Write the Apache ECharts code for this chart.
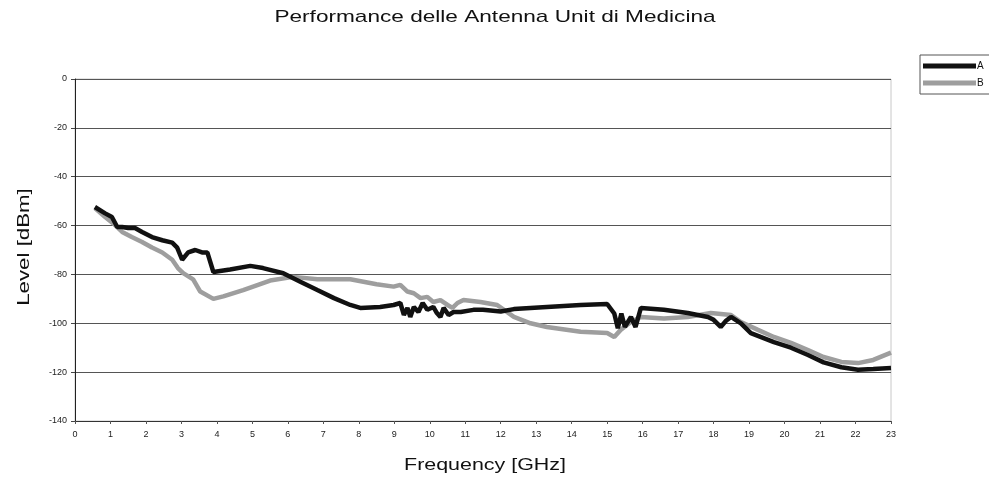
<!DOCTYPE html>
<html>
<head>
<meta charset="utf-8">
<script src="https://cdn.jsdelivr.net/npm/echarts@6/dist/echarts.min.js"></script>
<style>html,body{margin:0;padding:0;background:#fff;}#c{width:989px;height:480px;}</style>
</head>
<body>
<div id="c"></div>
<script>
var titleText = 'Performance delle Antenna Unit di Medicina';
var xAxisName = 'Frequency [GHz]';
var yAxisName = 'Level [dBm]';
var seriesNames = ['A', 'B'];
var yTicks = [-140, -120, -100, -80, -60, -40, -20, 0];
var xTicks = [0,1,2,3,4,5,6,7,8,9,10,11,12,13,14,15,16,17,18,19,20,21,22,23];

var freqA = [0.56,0.85,1.04,1.19,1.33,1.5,1.69,1.89,2.17,2.46,2.74,2.88,3.02,3.19,3.39,3.58,3.73,3.9,4.37,4.94,5.3,5.87,6.35,6.83,7.3,7.76,8.04,8.6,8.98,9.17,9.27,9.37,9.45,9.55,9.68,9.8,9.93,10.1,10.2,10.3,10.39,10.53,10.67,10.87,11.23,11.5,12.0,12.37,13.3,14.25,15.0,15.2,15.3,15.4,15.5,15.67,15.8,15.95,16.6,17.27,17.84,18.0,18.2,18.35,18.49,18.77,19.05,19.7,20.18,20.66,21.1,21.6,22.07,22.5,23.0];
var levelA = [-52.4,-55,-56.5,-60.6,-60.6,-61,-61,-62.6,-64.7,-66,-67,-69,-74,-71,-70,-71,-71,-79,-78,-76.5,-77.4,-79.5,-83,-86.4,-89.7,-92.5,-93.7,-93.3,-92.5,-91.7,-96.6,-93.7,-97.4,-93.3,-95.4,-91.7,-94.5,-93.3,-95.8,-97.4,-93.7,-96.6,-95.4,-95.4,-94.5,-94.5,-95.2,-94.2,-93.3,-92.5,-92.1,-96,-102,-96,-101.5,-97.4,-101.5,-93.7,-94.5,-95.8,-97.4,-98.6,-101.5,-99,-97.4,-100,-104,-107.7,-110,-113,-116,-118,-119,-118.7,-118.3];

var freqB = [0.56,0.85,1.13,1.33,1.6,1.89,2.17,2.46,2.74,2.9,3.05,3.33,3.53,3.9,4.18,4.74,5.5,6.15,6.83,7.76,8.5,8.98,9.17,9.37,9.55,9.74,9.93,10.1,10.3,10.5,10.64,10.78,10.95,11.43,11.9,12.37,12.84,13.3,14.25,15.0,15.2,15.38,15.67,15.95,16.6,17.27,17.92,18.49,18.77,19.25,19.7,20.18,20.66,21.1,21.6,22.07,22.5,23.0];
var levelB = [-52.8,-56.5,-59.8,-62.6,-64.7,-66.7,-69,-71,-74,-77.4,-79.5,-82,-87,-90,-89,-86.4,-82.5,-81,-82,-82,-84,-85,-84.3,-87,-87.7,-89.7,-89.2,-91.3,-90.5,-92.5,-93.7,-91.7,-90.5,-91.3,-92.5,-97.4,-100,-101.5,-103.5,-104,-105.6,-102.7,-99.5,-97.4,-98,-97.4,-95.8,-96.6,-99.5,-102.7,-105.6,-108,-111,-113.8,-115.8,-116.3,-115,-112];

function pairs(xs, ys) { return xs.map(function (x, i) { return [x, ys[i]]; }); }

var FONT = 'Liberation Sans, Arial, sans-serif';
var chart = echarts.init(document.getElementById('c'), null, { renderer: 'canvas' });
chart.setOption({
  animation: false,
  backgroundColor: '#ffffff',
  graphic: [
    {
      type: 'text', x: 495, y: 17, scaleX: 1.33,
      style: { text: titleText, font: '17px Liberation Sans, Arial, sans-serif', fill: '#111',
               align: 'center', verticalAlign: 'middle', textAlign: 'center', textVerticalAlign: 'middle' }
    },
    {
      type: 'text', x: 485, y: 465, scaleX: 1.26,
      style: { text: xAxisName, font: '17px Liberation Sans, Arial, sans-serif', fill: '#111',
               align: 'center', verticalAlign: 'middle', textAlign: 'center', textVerticalAlign: 'middle' }
    },
    {
      type: 'text', x: 24, y: 247, scaleX: 1.31, rotation: Math.PI / 2,
      style: { text: yAxisName, font: '17px Liberation Sans, Arial, sans-serif', fill: '#111',
               align: 'center', verticalAlign: 'middle', textAlign: 'center', textVerticalAlign: 'middle' }
    }
  ],
  legend: {
    orient: 'vertical', left: 920, top: 55,
    data: seriesNames,
    icon: 'rect', itemWidth: 53, itemHeight: 5, itemGap: 7,
    borderColor: '#555', borderWidth: 1, padding: [6, 20, 6, 3],
    textStyle: { fontFamily: FONT, fontSize: 10, color: '#111', padding: [0, 0, 0, -4] }
  },
  grid: { left: 75, right: 98, top: 79, bottom: 59, show: true, borderColor: '#c8c8c8', borderWidth: 1 },
  xAxis: {
    type: 'value', min: xTicks[0], max: xTicks[xTicks.length - 1], interval: 1,
    axisLine: { show: true, onZero: false, lineStyle: { color: '#333', width: 1 } },
    axisTick: { show: true, length: 3, lineStyle: { color: '#555' } },
    axisLabel: { fontFamily: FONT, fontSize: 9, color: '#222', margin: 9 },
    splitLine: { show: false }
  },
  yAxis: {
    type: 'value', min: yTicks[0], max: yTicks[yTicks.length - 1], interval: 20,
    axisLine: { show: true, lineStyle: { color: '#222', width: 1 } },
    axisTick: { show: true, length: 4, lineStyle: { color: '#444' } },
    axisLabel: { fontFamily: FONT, fontSize: 9, color: '#222', margin: 8 },
    splitLine: { show: true, lineStyle: { color: '#555', width: 1 } }
  },
  series: [
    {
      name: seriesNames[0], type: 'line', data: pairs(freqA, levelA),
      showSymbol: false, symbol: 'none', smooth: false,
      lineStyle: { color: '#111', width: 4.5 }, itemStyle: { color: '#111' }, z: 3
    },
    {
      name: seriesNames[1], type: 'line', data: pairs(freqB, levelB),
      showSymbol: false, symbol: 'none', smooth: false,
      lineStyle: { color: '#9e9e9e', width: 4.5 }, itemStyle: { color: '#9e9e9e' }, z: 2
    }
  ]
});
</script>
</body>
</html>
